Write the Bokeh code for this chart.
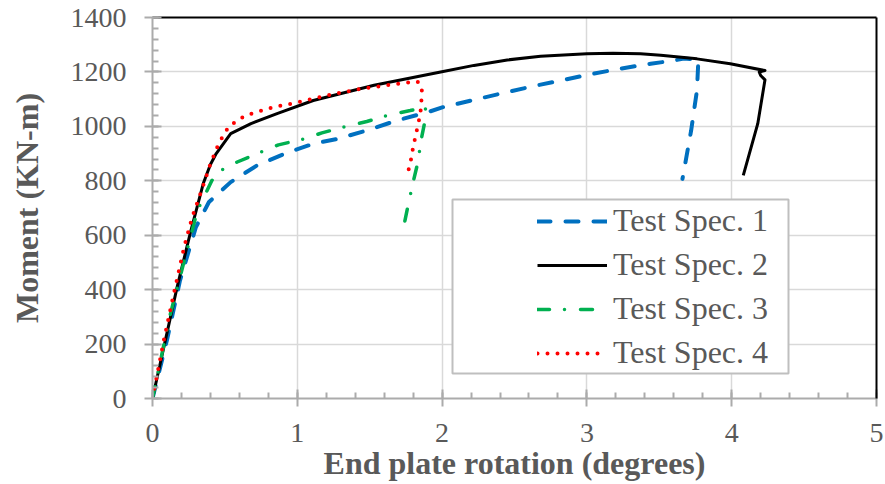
from bokeh.plotting import figure
from bokeh.models import (Range1d, SingleIntervalTicker, Legend, LegendItem,
                          BoxAnnotation, LinearAxis)
from bokeh.embed import file_html
from bokeh.resources import INLINE

# ---- data ----
x_spec1 = [0, 0.10, 0.19, 0.30, 0.39, 0.54, 0.72, 0.91, 1.11, 1.28, 1.48, 1.69, 1.90,
           2.01, 2.25, 2.45, 2.65, 2.84, 3.04, 3.23, 3.44, 3.60, 3.67, 3.77, 3.76, 3.72, 3.66]
y_spec1 = [0, 215, 434, 630, 722, 795, 856, 899, 936, 954, 985, 1022, 1052,
           1071, 1101, 1126, 1150, 1171, 1193, 1212, 1230, 1242, 1249, 1245, 1132, 985, 807]

x_spec2 = [0, 0.17, 0.26, 0.35, 0.40, 0.44, 0.54, 0.68, 0.86, 1.11, 1.53, 1.99, 2.22, 2.45,
           2.68, 3.00, 3.18, 3.37, 3.51, 3.76, 3.99, 4.23, 4.19, 4.20, 4.23, 4.22, 4.18, 4.08]
y_spec2 = [0, 409, 606, 789, 860, 900, 973, 1010, 1047, 1095, 1151, 1200, 1224, 1244,
           1258, 1267, 1269, 1267, 1261, 1248, 1230, 1205, 1200, 1187, 1171, 1139, 1010, 820]

x_spec3 = [0, 0.124, 0.25, 0.31, 0.366, 0.41, 0.49, 0.585, 0.746, 0.87, 1.045, 1.17, 1.32,
           1.48, 1.64, 1.78, 1.885, 1.885, 1.86, 1.83, 1.80, 1.77, 1.735]
y_spec3 = [0, 312, 568, 691, 752, 801, 844, 869, 905, 932, 954, 976, 997,
           1018, 1043, 1058, 1071, 1028, 963, 862, 795, 722, 632]

x_spec4 = [0, 0.078, 0.147, 0.22, 0.274, 0.343, 0.40, 0.458, 0.527, 0.642, 0.838, 0.976,
           1.23, 1.436, 1.69, 1.83, 1.86, 1.86, 1.85, 1.83, 1.80, 1.78, 1.76]
y_spec4 = [0, 213, 385, 560, 666, 771, 862, 938, 1000, 1040, 1071, 1085,
           1116, 1138, 1156, 1165, 1144, 1114, 1046, 997, 924, 862, 825]

labels = ["Test Spec. 1", "Test Spec. 2", "Test Spec. 3", "Test Spec. 4"]
colors = ["#0070C0", "#000000", "#00B050", "#FF0000"]

x_title = "End plate rotation (degrees)"
y_title = "Moment (KN-m)"

FONT = "Liberation Serif"
TXT = "#595959"
AXC = "#ABABAB"

p = figure(frame_width=724, frame_height=381, output_backend="svg", toolbar_location=None,
           x_range=Range1d(0, 5), y_range=Range1d(0, 1400),
           min_border_left=152, min_border_right=9, min_border_top=17, min_border_bottom=86,
           background_fill_color="white", border_fill_color="white")
p.outline_line_color = None

p.xaxis.ticker = SingleIntervalTicker(interval=1, num_minor_ticks=5)
p.yaxis.ticker = SingleIntervalTicker(interval=200, num_minor_ticks=5)

for ax in (p.xaxis[0], p.yaxis[0]):
    ax.axis_line_color = AXC
    ax.axis_line_width = 2
    ax.major_tick_line_color = AXC
    ax.major_tick_line_width = 2
    ax.minor_tick_line_color = AXC
    ax.minor_tick_line_width = 2
    ax.major_tick_out = 8
    ax.major_tick_in = 9
    ax.minor_tick_out = 0
    ax.minor_tick_in = 6
    ax.major_label_text_font = FONT
    ax.major_label_text_font_size = "28px"
    ax.major_label_text_color = TXT
    ax.axis_label_text_font = FONT
    ax.axis_label_text_font_size = "32px"
    ax.axis_label_text_font_style = "bold"
    ax.axis_label_text_color = TXT

p.xaxis.axis_label = x_title
p.yaxis.axis_label = y_title
p.xaxis.major_label_standoff = 17
p.yaxis.major_label_standoff = 18
p.xaxis.axis_label_standoff = 0
p.yaxis.axis_label_standoff = 23

# black border on top and right
for loc in ("above", "right"):
    b = LinearAxis(major_tick_out=0, major_tick_in=0, minor_tick_out=0, minor_tick_in=0,
                   major_label_text_font_size="0px", axis_line_color="black",
                   axis_line_width=2)
    b.major_label_text_alpha = 0
    p.add_layout(b, loc)

p.xgrid.grid_line_color = "#D9D9D9"
p.ygrid.grid_line_color = "#D9D9D9"
p.xgrid.grid_line_width = 1.5
p.ygrid.grid_line_width = 1.5

r1 = p.line(x_spec1, y_spec1, line_color=colors[0], line_width=4, line_dash="13 15",
            line_cap="round", line_join="round")
r2 = p.line(x_spec2, y_spec2, line_color=colors[1], line_width=3, line_join="round")
r3 = p.line(x_spec3, y_spec3, line_color=colors[2], line_width=3.5, line_dash="12 15 0 16",
            line_cap="round", line_join="round")
r4 = p.line(x_spec4, y_spec4, line_color=colors[3], line_width=4, line_dash="0 10",
            line_cap="round", line_join="round")

box = BoxAnnotation(left=300, right=636, bottom=25, top=199,
                    left_units="screen", right_units="screen",
                    top_units="screen", bottom_units="screen",
                    fill_color="white", fill_alpha=1.0,
                    line_color="#BFBFBF", line_width=2, line_alpha=1.0)
p.add_layout(box)

legend = Legend(items=[LegendItem(label=labels[i], renderers=[r])
                       for i, r in enumerate([r1, r2, r3, r4])],
                location=(385, 27), padding=6, spacing=7,
                glyph_width=70, glyph_height=30, label_standoff=6,
                label_text_font=FONT, label_text_font_size="32px",
                label_text_color=TXT, border_line_color=None,
                background_fill_alpha=0.0)
p.add_layout(legend, "center")

open("out.html", "w").write(file_html(p, INLINE))
